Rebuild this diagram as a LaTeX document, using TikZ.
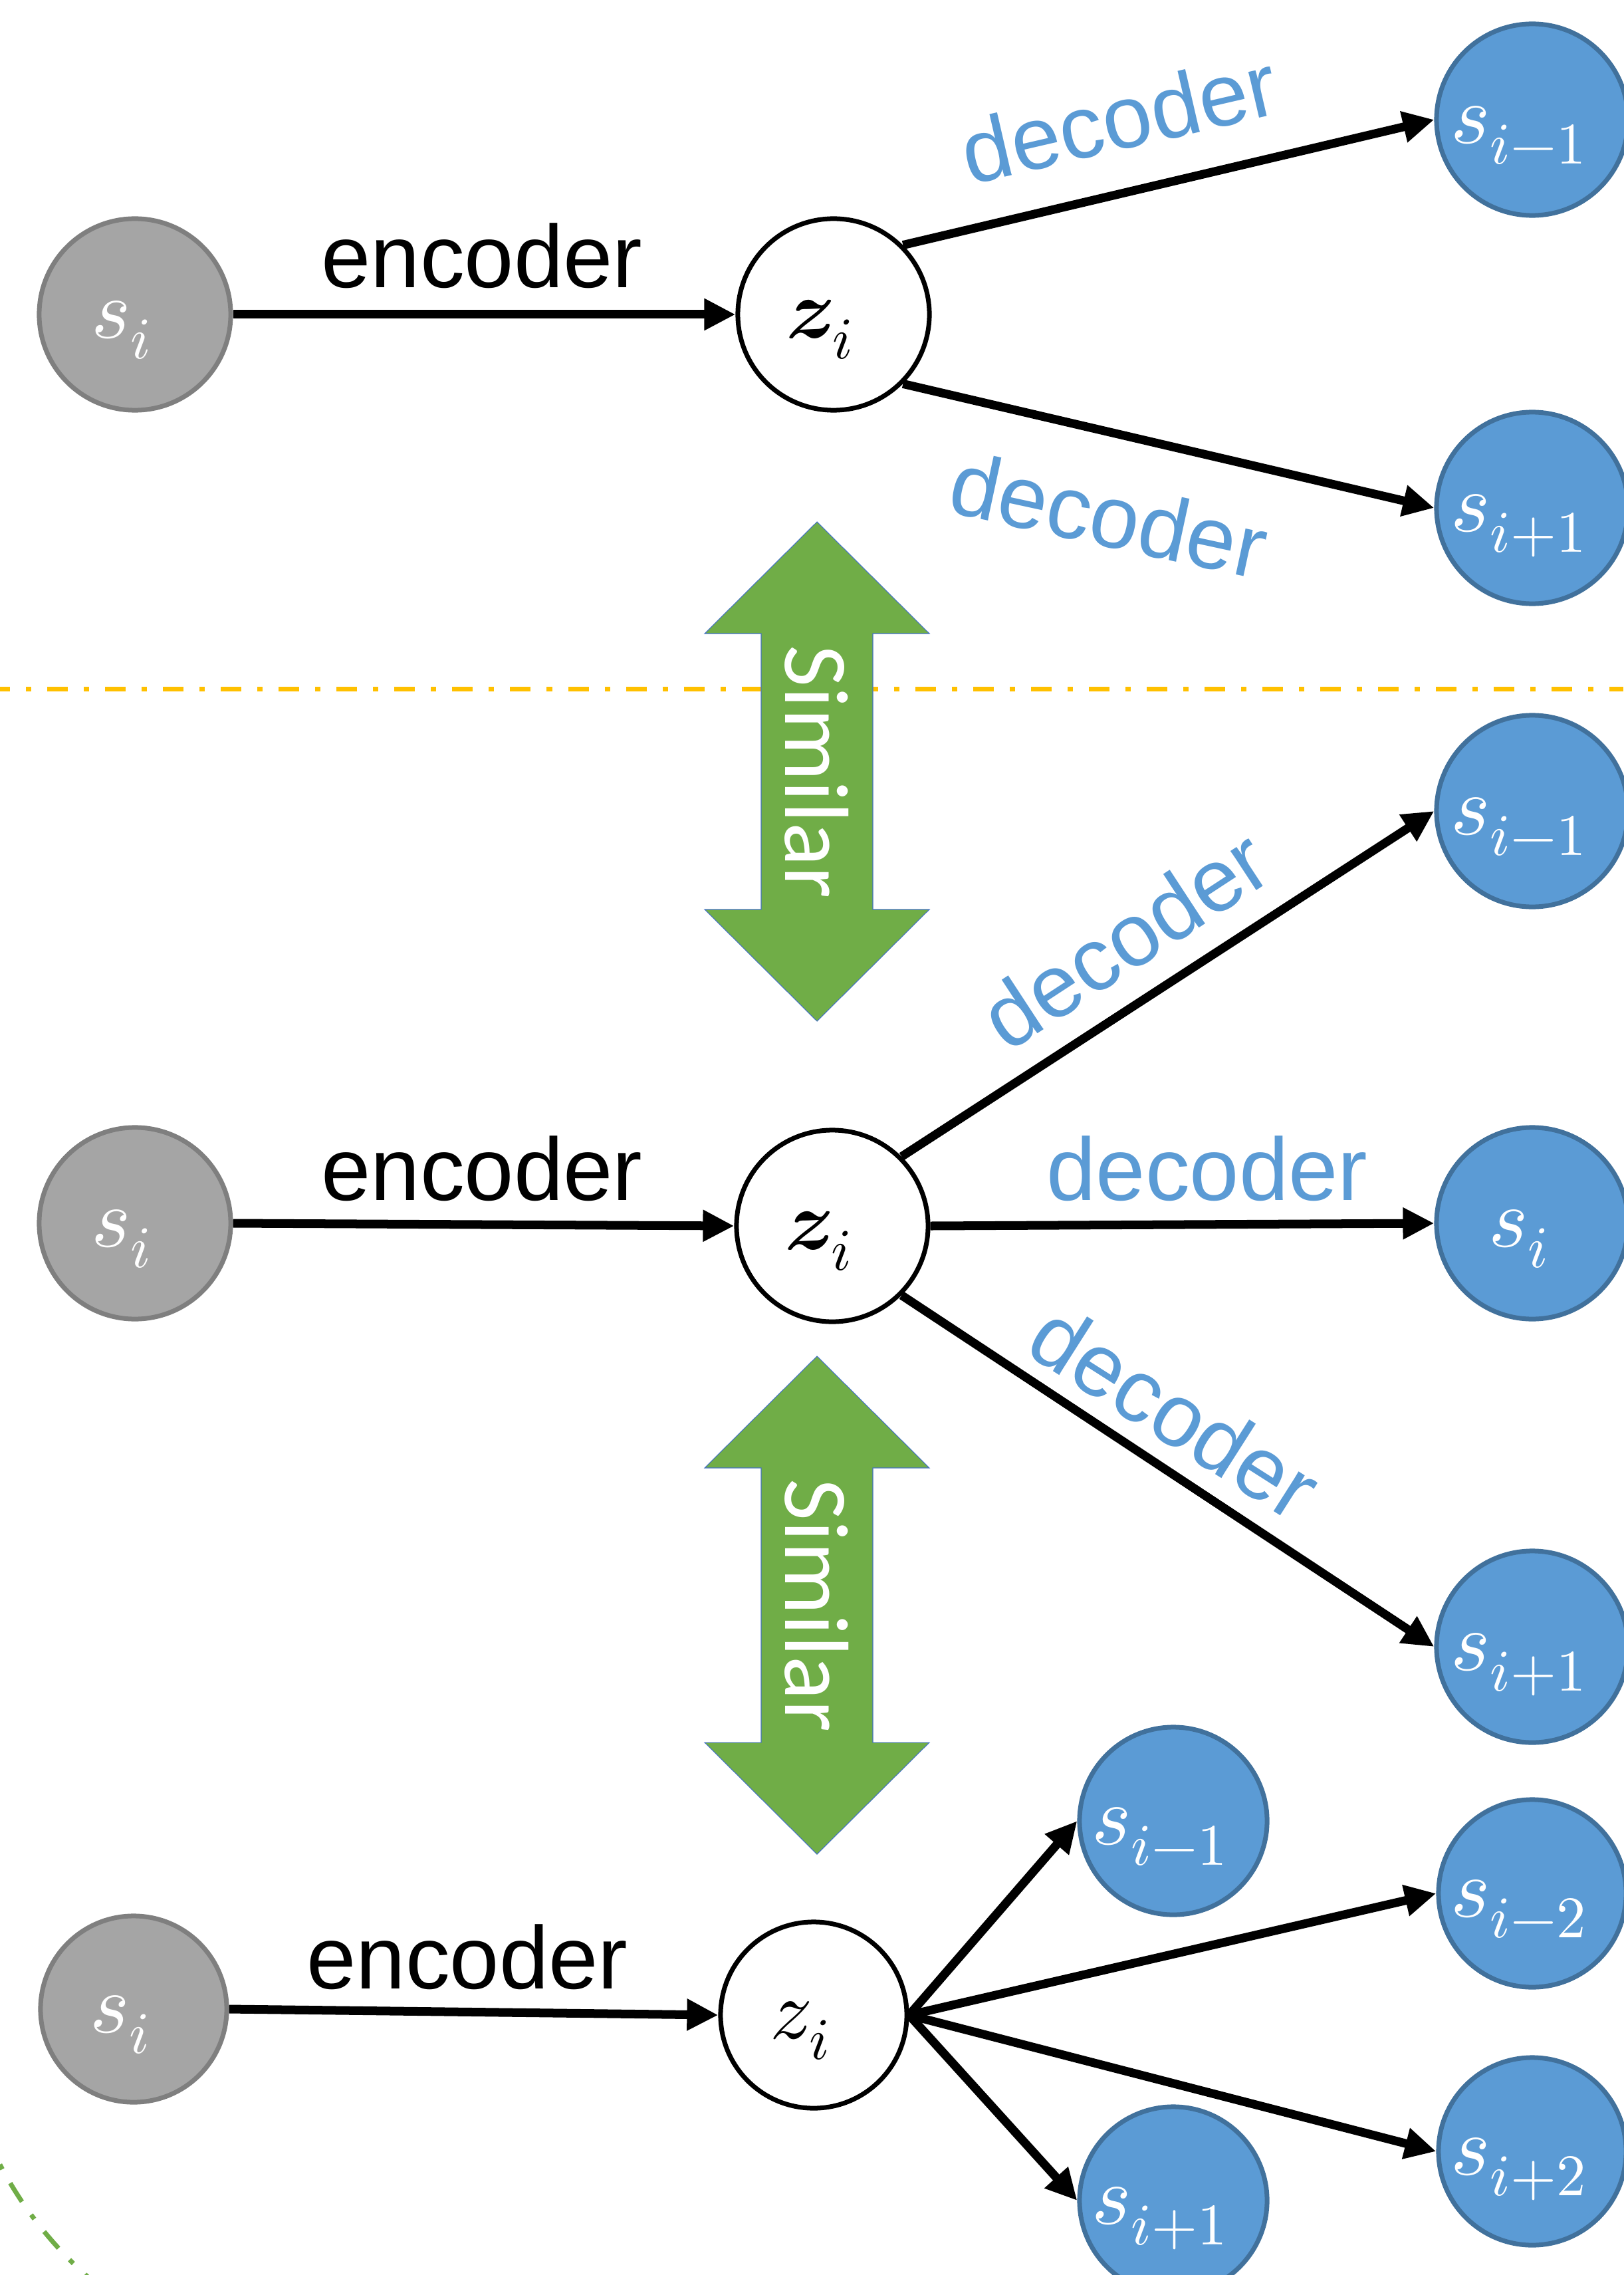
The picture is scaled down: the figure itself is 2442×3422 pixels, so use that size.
\documentclass[tikz,border=0pt]{standalone}
\usepackage{fontspec}
\usepackage{unicode-math}
\setmainfont{Liberation Sans}
\newfontfamily\similarfont{Carlito}
\usetikzlibrary{arrows.meta}
\definecolor{grayfill}{HTML}{A5A5A5}
\definecolor{grayline}{HTML}{7F7F7F}
\definecolor{bluefill}{HTML}{5B9BD5}
\definecolor{blueline}{HTML}{41719C}
\definecolor{greenfill}{HTML}{70AD47}
\definecolor{greenedge}{HTML}{4472C4}
\definecolor{sepline}{HTML}{FFC000}
\begin{document}
\begin{tikzpicture}[x=0.01cm,y=-0.01cm,
  state/.style={circle,line width=0.07cm,minimum size=2.88cm,inner sep=0pt,
    font=\fontsize{36}{40}\selectfont,text height=0.8cm,text depth=0.1cm,
    execute at end node=\hspace*{0.4cm}},
  gstate/.style={state,draw=grayline,fill=grayfill,text=white},
  zstate/.style={state,draw=black,fill=white},
  bstate/.style={state,draw=blueline,fill=bluefill,text=white},
  conn/.style={line width=0.13cm,-{Triangle[length=0.47cm,width=0.45cm]}},
  enc/.style={font=\fontsize{38}{44}\selectfont,inner sep=0pt,anchor=base},
  dec/.style={enc,text=bluefill},
  similar/.style={font=\similarfont\fontsize{39}{46}\selectfont,text=white,rotate=-90,inner sep=0pt},
  simarrow/.style={fill=greenfill,draw=greenedge,line width=0.3pt},
  sep/.style={draw=sepline,line width=0.07cm,dash pattern=on 0.31cm off 0.24cm on 0.08cm off 0.24cm,dash phase=0.16cm},
  greenarc/.style={draw=greenfill,line width=0.07cm,dash pattern=on 0.33cm off 0.24cm on 0.08cm off 0.24cm}]
\useasboundingbox (0,0) rectangle (2442,3422);
\draw[sep] (0,1036) -- (2442,1036);
\draw[greenarc] (-24,3204) arc[start angle=158,end angle=122,radius=590];
\filldraw[simarrow] (1229,785) -- (1398,953) -- (1313,953) -- (1313,1368) -- (1398,1368) -- (1229,1536)
  -- (1060,1368) -- (1145,1368) -- (1145,953) -- (1060,953) -- cycle;
\filldraw[simarrow] (1229,2040) -- (1398,2208) -- (1313,2208) -- (1313,2621) -- (1398,2621) -- (1229,2789)
  -- (1060,2621) -- (1145,2621) -- (1145,2208) -- (1060,2208) -- cycle;
\node[similar] (sim1) at (1229,1161) {Similar};
\node[similar] (sim2) at (1229,2415) {Similar};
\node[gstate] (g1) at (203,473) {$s_i$};
\node[zstate] (z1) at (1254,473) {$\symbfit{z}_i$};
\node[bstate] (a1) at (2305,180) {$s_{i-1}$};
\node[bstate] (b1) at (2305,764) {$s_{i+1}$};
\node[gstate] (g2) at (203,1840) {$s_i$};
\node[zstate] (z2) at (1252,1844) {$\symbfit{z}_i$};
\node[bstate] (a2) at (2305,1220) {$s_{i-1}$};
\node[bstate] (c2) at (2305,1840) {$s_i$};
\node[bstate] (b2) at (2305,2477) {$s_{i+1}$};
\node[gstate,minimum size=2.8cm] (g3) at (201,3022) {$s_i$};
\node[zstate,minimum size=2.8cm] (z3) at (1224,3031) {$z_i$};
\node[bstate,minimum size=2.82cm] (a3) at (1765,2739) {$s_{i-1}$};
\node[bstate,minimum size=2.82cm] (b3) at (1765,3310) {$s_{i+1}$};
\node[bstate,minimum size=2.82cm] (d3) at (2305,2848) {$s_{i-2}$};
\node[bstate,minimum size=2.82cm] (e3) at (2305,3236) {$s_{i+2}$};
\draw[conn] (g1.east) -- (z1.west);
\draw[conn] (z1.45) -- (a1.west);
\draw[conn] (z1.-45) -- (b1.west);
\draw[conn] (g2.east) -- (z2.west);
\draw[conn] (z2.45) -- (a2.west);
\draw[conn] (z2.east) -- (c2.west);
\draw[conn] (z2.-45) -- (b2.west);
\draw[conn] (g3.east) -- (z3.west);
\draw[conn] (z3.east) -- (a3.west);
\draw[conn] (z3.east) -- (d3.west);
\draw[conn] (z3.east) -- (e3.west);
\draw[conn] (z3.east) -- (b3.west);
\node[enc] (enc1) at (725,433) {encoder};
\node[enc] (enc2) at (725,1805) {encoder};
\node[enc] (enc3) at (703,2991) {encoder};
\node[dec,rotate=13] (dec1a) at (1694,224) {decoder};
\node[dec,rotate=-12.2] (dec1b) at (1658,821) {decoder};
\node[dec,rotate=33.2] (dec2a) at (1718,1452) {decoder};
\node[dec] (dec2b) at (1816,1805) {decoder};
\node[dec,rotate=-32.5] (dec2c) at (1742,2163) {decoder};
\end{tikzpicture}
\end{document}
